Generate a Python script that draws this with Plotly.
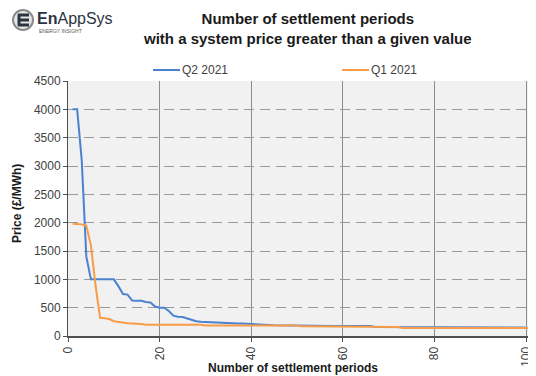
import plotly.graph_objects as go

periods_q2 = list(range(1, 101))
price_q2 = [4000, 4000, 3100, 1400, 1000, 1000, 1000, 1000, 1000, 1000,
            880, 740, 730, 625, 620, 620, 600, 590, 520, 500,
            500, 440, 360, 340, 335, 310, 280, 260, 250, 245,
            240, 240, 235, 230, 228, 225, 222, 220, 218, 215,
            210, 205, 200, 195, 190, 188, 188, 188, 188, 188,
            188] + [175] * 15 + [160] * 6 + [148] * 27 + [145]

periods_q1 = list(range(1, 103))
price_q1 = [1980, 1975, 1970, 1950, 1600, 900, 320, 315, 300, 260,
            245, 235, 225, 220, 218, 210] + [200] * 13 + [185] * 21 + \
           [170] * 5 + [158] * 17 + [140] * 30

price_q2 = price_q2[:100]
series_names = ["Q2 2021", "Q1 2021"]
series_colors = ["#4b82cf", "#f99c48"]
x_ticks = [0, 20, 40, 60, 80, 100]
y_ticks = list(range(0, 4501, 500))

# page body has an 8px margin; size the figure to fit the 536x376 window
OFF = 8
W, H = 536 - OFF, 376 - OFF
L, R, T, B = 68 - OFF, 3, 81 - OFF, 48 - OFF
pw, ph = W - L - R, H - T - B


def px(x):
    return (x - OFF - L) / pw


def py(y):
    return (H - B - (y - OFF)) / ph


fig = go.Figure()
fig.add_trace(go.Scatter(x=periods_q2, y=price_q2, mode="lines", name=series_names[0],
                         line=dict(color=series_colors[0], width=2)))
fig.add_trace(go.Scatter(x=periods_q1, y=price_q1, mode="lines", name=series_names[1],
                         line=dict(color=series_colors[1], width=2)))

font_main = "Liberation Sans, Arial, sans-serif"
fig.update_layout(
    width=W, height=H,
    margin=dict(l=L, r=R, t=T, b=B, autoexpand=False),
    paper_bgcolor="white", plot_bgcolor="#f1f1f1",
    font=dict(family=font_main, size=12, color="#404040"),
    showlegend=False,
)
fig.add_annotation(xref="paper", yref="paper", x=px(307), y=py(28), xanchor="center", yanchor="middle",
                   text="<b>Number of settlement periods<br>with a system price greater than a given value</b>",
                   showarrow=False, font=dict(size=15, color="#1a1a1a", family=font_main))
fig.update_xaxes(range=[0, 101.5], tickmode="array", tickvals=x_ticks,
                 tickangle=-90, showgrid=True, gridcolor="#8c8c8c", gridwidth=1,
                 showline=True, linecolor="#505050", linewidth=2, ticks="outside",
                 ticklen=4, tickcolor="#505050", zeroline=False, automargin=False,
                 tickfont=dict(size=12, color="#404040"))
fig.update_yaxes(range=[0, 4500], tickmode="array", tickvals=y_ticks,
                 showgrid=True, gridcolor="#9a9a9a", gridwidth=1, griddash="10px,6px",
                 showline=True, linecolor="#505050", linewidth=1, ticks="outside",
                 ticklen=4, tickcolor="#505050", zeroline=False, automargin=False,
                 tickfont=dict(size=12, color="#404040"))

# Axis titles
fig.add_annotation(xref="paper", yref="paper", x=px(293), y=py(368), xanchor="center", yanchor="middle",
                   text="<b>Number of settlement periods</b>", showarrow=False,
                   font=dict(size=12, color="#1a1a1a"))
fig.add_annotation(xref="paper", yref="paper", x=px(17), y=py(204), xanchor="center", yanchor="middle",
                   text="<b>Price (£/MWh)</b>", showarrow=False, textangle=-90,
                   font=dict(size=12, color="#1a1a1a"))

# Legend (manual)
for name, color, x0 in zip(series_names, series_colors, [153, 342]):
    fig.add_shape(type="line", xref="paper", yref="paper", x0=px(x0), x1=px(x0 + 27),
                  y0=py(70), y1=py(70), line=dict(color=color, width=2))
    fig.add_annotation(xref="paper", yref="paper", x=px(x0 + 27), y=py(70), xanchor="left",
                       yanchor="middle", text=name, showarrow=False,
                       font=dict(size=12, color="#404040"))

# Logo
fig.add_shape(type="circle", xref="paper", yref="paper", x0=px(13), x1=px(33), y0=py(30), y1=py(10),
              line=dict(color="#8a8a8a", width=2), fillcolor="#e6e6e6")
for yy in (15, 20, 25):
    fig.add_shape(type="line", xref="paper", yref="paper", x0=px(18), x1=px(29), y0=py(yy), y1=py(yy),
                  line=dict(color="#2a3440", width=3))
fig.add_shape(type="line", xref="paper", yref="paper", x0=px(19), x1=px(19), y0=py(14.5), y1=py(25.5),
              line=dict(color="#2a3440", width=3))
fig.add_annotation(xref="paper", yref="paper", x=px(35), y=py(19), xanchor="left", yanchor="middle",
                   text="<b>En</b>AppSys", showarrow=False,
                   font=dict(size=16, color="#2a3440", family=font_main))
fig.add_annotation(xref="paper", yref="paper", x=px(37), y=py(30.5), xanchor="left", yanchor="middle",
                   text="ENERGY INSIGHT", showarrow=False,
                   font=dict(size=5, color="#555555", family=font_main))

fig.write_html("out.html")
